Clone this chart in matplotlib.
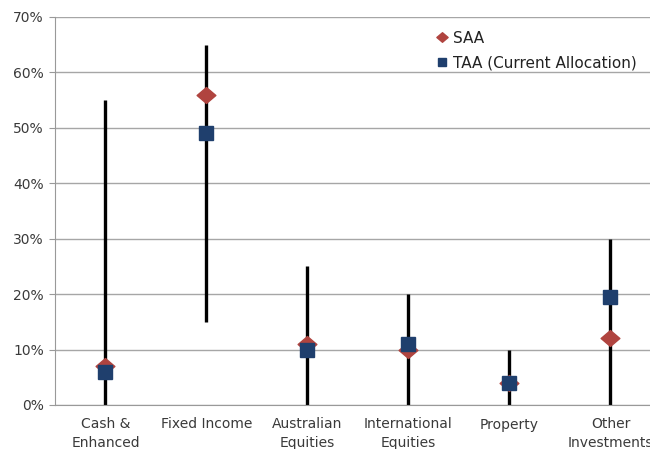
import numpy as np
import matplotlib.pyplot as plt
from matplotlib.path import Path

plt.rcParams['font.family'] = ['DejaVu Sans']

categories = ['Cash &\nEnhanced', 'Fixed Income', 'Australian\nEquities',
              'International\nEquities', 'Property', 'Other\nInvestments']
range_low = [0, 15, 0, 0, 0, 0]
range_high = [55, 65, 25, 20, 10, 30]
saa = [7, 56, 11, 10, 4, 12]
taa = [6, 49, 10, 11, 4, 19.5]

# slightly flattened diamond like the Excel marker
diamond = Path([(-1, 0), (0, 0.85), (1, 0), (0, -0.85), (-1, 0)],
               [Path.MOVETO, Path.LINETO, Path.LINETO, Path.LINETO, Path.CLOSEPOLY])

fig = plt.figure(figsize=(6.5, 4.49), dpi=100)
ax = fig.add_axes([55 / 650, 44 / 449, 606 / 650, 388 / 449])

x = np.arange(len(categories))
ax.vlines(x, range_low, range_high, color='black', linewidth=2.4, zorder=2)
ax.plot(x, saa, linestyle='none', marker=diamond, markersize=13.5,
        color='#B0443F', label='SAA', zorder=3)
ax.plot(x, taa, linestyle='none', marker='s', markersize=10.5,
        color='#1F3F6D', label='TAA (Current Allocation)', zorder=4)

ax.set_xlim(-0.5, len(categories) - 0.5)
ax.set_ylim(0, 70)
ax.set_yticks(np.arange(0, 71, 10))
ax.set_yticklabels([f'{v}%' for v in range(0, 71, 10)], fontsize=10, color='#3A3A3A')
ax.set_xticks(x)
ax.set_xticklabels(categories, fontsize=10, color='#3A3A3A', linespacing=1.45)
ax.tick_params(axis='x', length=0, pad=9)
ax.tick_params(axis='y', length=4, color='#999999', pad=4)
ax.yaxis.grid(True, color='#A6A6A6', linewidth=1)
ax.set_axisbelow(True)
for s in ['top', 'right']:
    ax.spines[s].set_visible(False)
for s in ['left', 'bottom']:
    ax.spines[s].set_color('#999999')

ax.legend(loc='upper left', bbox_to_anchor=(0.607, 1.0), frameon=False,
          fontsize=11, handlelength=0.7, handletextpad=0.4, labelspacing=0.65,
          markerscale=0.6, labelcolor='#222222')

fig.savefig('out.png', dpi=100)
